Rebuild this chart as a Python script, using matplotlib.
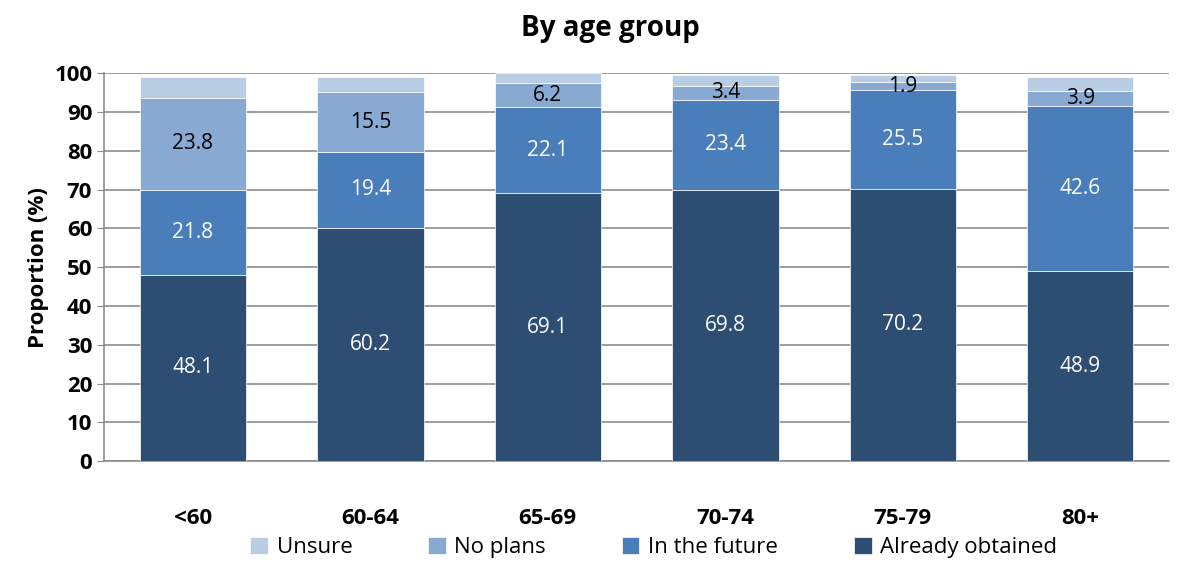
import matplotlib.pyplot as plt
import numpy as np
from matplotlib import font_manager

names = {f.name for f in font_manager.fontManager.ttflist}
fam = 'Liberation Sans Narrow' if 'Liberation Sans Narrow' in names else 'Open Sans'
plt.rcParams['font.family'] = [fam, 'DejaVu Sans']

groups = ['<60', '60-64', '65-69', '70-74', '75-79', '80+']
already = [48.1, 60.2, 69.1, 69.8, 70.2, 48.9]
future = [21.8, 19.4, 22.1, 23.4, 25.5, 42.6]
no_plans = [23.8, 15.5, 6.2, 3.4, 1.9, 3.9]
unsure = [5.3, 3.9, 2.6, 2.9, 1.9, 3.6]

colors = {'Already obtained': '#2E4D73', 'In the future': '#4A7EBB',
          'No plans': '#88A9D2', 'Unsure': '#B9CDE5'}

fig = plt.figure(figsize=(11.82, 5.63), dpi=100)
ax = fig.add_axes([0.088, 0.181, 0.901, 0.689])

x = np.arange(len(groups))
w = 0.6
bottom = np.zeros(len(groups))
series = [('Already obtained', already, 'white'),
          ('In the future', future, 'white'),
          ('No plans', no_plans, 'black'),
          ('Unsure', unsure, None)]
handles = {}
for name, vals, tc in series:
    vals = np.array(vals)
    b = ax.bar(x, vals, w, bottom=bottom, color=colors[name], label=name,
               edgecolor='white', linewidth=0.5, zorder=3)
    handles[name] = b
    if tc:
        for xi, bi, v in zip(x, bottom, vals):
            ax.text(xi, bi + v / 2, f'{v:.1f}', ha='center', va='center',
                    color=tc, fontsize=15, zorder=4)
    bottom += vals

ax.set_xlim(-0.5, len(groups) - 0.5)
ax.set_ylim(0, 100)
ax.set_yticks(range(0, 101, 10))
ax.yaxis.grid(True, color='#8C8C8C', linewidth=1.2, zorder=0)
ax.set_axisbelow(True)
for s in ['top', 'right']:
    ax.spines[s].set_visible(False)
ax.spines['left'].set_color('#8C8C8C')
ax.spines['bottom'].set_color('#8C8C8C')
ax.spines['left'].set_linewidth(1.2)
ax.spines['bottom'].set_linewidth(1.2)
ax.tick_params(axis='y', colors='#8C8C8C', labelcolor='black', length=5,
               labelsize=16)
ax.tick_params(axis='x', length=0, pad=34, labelsize=16)
ax.set_xticks(x)
ax.set_xticklabels(groups, fontweight='bold')
for t in ax.get_yticklabels():
    t.set_fontweight('bold')
ax.set_ylabel('Proportion (%)', fontsize=16, fontweight='bold', labelpad=4)
fig.suptitle('By age group', x=0.516, y=0.975, fontsize=20, fontweight='bold')

order = ['Unsure', 'No plans', 'In the future', 'Already obtained']
fig.legend([handles[n] for n in order], order, loc='center',
           bbox_to_anchor=(0.553, 0.027), ncol=4, frameon=False, fontsize=16,
           handlelength=0.8, handleheight=0.8, handletextpad=0.4,
           columnspacing=3.4)

fig.savefig('out.png', dpi=100)
